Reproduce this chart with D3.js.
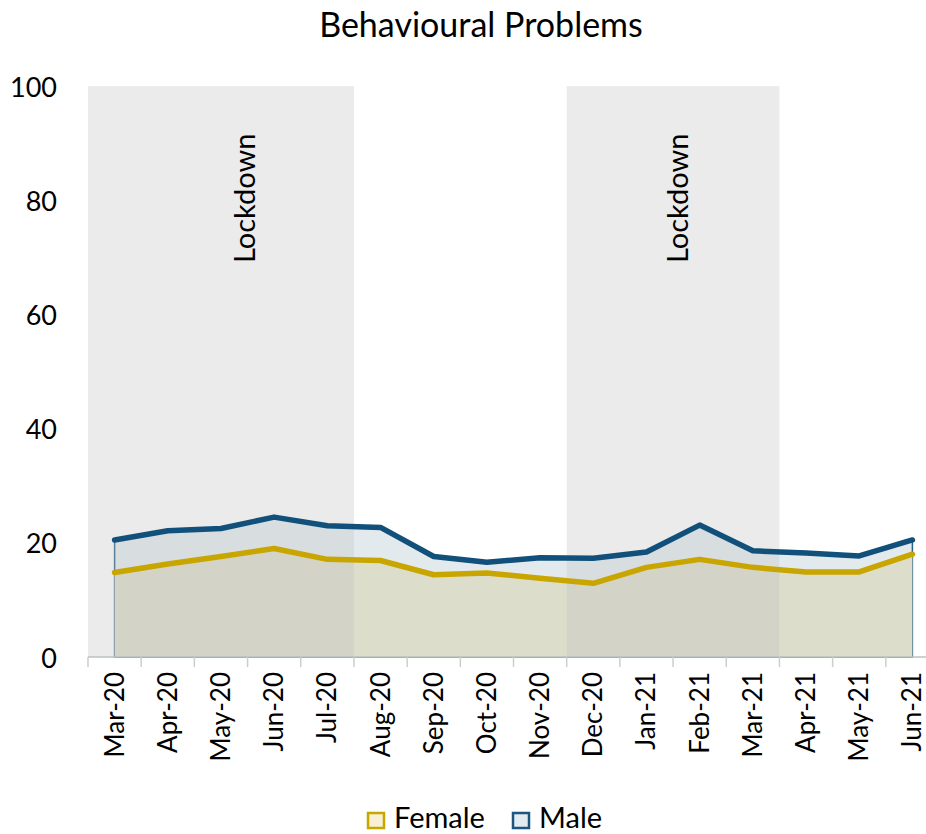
<!DOCTYPE html>
<html>
<head>
<meta charset="utf-8">
<script src="https://cdn.jsdelivr.net/npm/d3@7"></script>
<style>
  body { margin: 0; background: #fff; }
  text { font-family: Lato, "Open Sans", sans-serif; fill: #000; }
</style>
</head>
<body>
<svg width="926" height="834"></svg>
<script>
var months = ["Mar-20", "Apr-20", "May-20", "Jun-20", "Jul-20", "Aug-20", "Sep-20", "Oct-20",
              "Nov-20", "Dec-20", "Jan-21", "Feb-21", "Mar-21", "Apr-21", "May-21", "Jun-21"];
var female = [14.8, 16.3, 17.6, 19.0, 17.1, 16.9, 14.4, 14.7, 13.8, 12.9, 15.7, 17.1, 15.7, 14.9, 14.9, 18.0];
var male   = [20.5, 22.1, 22.5, 24.5, 23.0, 22.7, 17.6, 16.6, 17.4, 17.3, 18.4, 23.1, 18.6, 18.2, 17.7, 20.5];
var yTicks = [0, 20, 40, 60, 80, 100];
var lockdowns = [
  { from: "Mar-20", to: "Jul-20", label: "Jun-20", dx: -4 },
  { from: "Dec-20", to: "Mar-21", label: "Feb-21", dx: 3 }
];

var svg = d3.select("svg");

var x = d3.scaleBand().domain(months).range([88, 939]);
var y = d3.scaleLinear().domain([0, 100]).range([657, 86]);
var cx = function(m) { return x(m) + x.bandwidth() / 2; };

// title
svg.append("text")
  .attr("x", 481).attr("y", 37)
  .attr("text-anchor", "middle")
  .style("font-size", "34px")
  .text("Behavioural Problems");

// areas
var pts = months.map(function(m, i) { return { m: m, f: female[i], v: male[i] }; });

var maleArea = d3.area().x(function(d) { return cx(d.m); }).y0(y(0)).y1(function(d) { return y(d.v); });
var femaleArea = d3.area().x(function(d) { return cx(d.m); }).y0(y(0)).y1(function(d) { return y(d.f); });

svg.append("path").attr("d", maleArea(pts))
  .attr("fill", "#e3eaee").attr("stroke", "#2a6187").attr("stroke-width", 1.5);
svg.append("path").attr("d", femaleArea(pts))
  .attr("fill", "#dcdecb");

// lockdown bands (semi-transparent on top of the areas)
lockdowns.forEach(function(l) {
  svg.append("rect")
    .attr("x", x(l.from))
    .attr("y", y(100))
    .attr("width", x(l.to) + x.bandwidth() - x(l.from))
    .attr("height", y(0) - y(100))
    .attr("fill", "rgb(192,192,192)")
    .attr("fill-opacity", 0.32);
});

// lines
var maleLine = d3.line().x(function(d) { return cx(d.m); }).y(function(d) { return y(d.v); });
var femaleLine = d3.line().x(function(d) { return cx(d.m); }).y(function(d) { return y(d.f); });

svg.append("path").attr("d", maleLine(pts))
  .attr("fill", "none").attr("stroke", "#10507a").attr("stroke-width", 5.5)
  .attr("stroke-linejoin", "round").attr("stroke-linecap", "round");
svg.append("path").attr("d", femaleLine(pts))
  .attr("fill", "none").attr("stroke", "#c9a500").attr("stroke-width", 5.5)
  .attr("stroke-linejoin", "round").attr("stroke-linecap", "round");

// lockdown labels
lockdowns.forEach(function(l) {
  svg.append("text")
    .attr("transform", "translate(" + [x(l.label) + l.dx, y(69)] + ") rotate(-90)")
    .attr("dominant-baseline", "central")
    .style("font-size", "29px")
    .text("Lockdown");
});

// x axis
var xAxis = svg.append("g");
xAxis.append("line")
  .attr("x1", x.range()[0]).attr("x2", x.range()[1])
  .attr("y1", y(0)).attr("y2", y(0))
  .attr("stroke", "#b9c2be").attr("stroke-width", 1.5);
months.concat([null]).forEach(function(m) {
  var xx = m ? x(m) : x.range()[1];
  xAxis.append("line")
    .attr("x1", xx).attr("x2", xx)
    .attr("y1", y(0)).attr("y2", y(0) + 10)
    .attr("stroke", "#c8cfcc").attr("stroke-width", 1.5);
});
months.forEach(function(m) {
  xAxis.append("text")
    .attr("transform", "translate(" + [cx(m) - 1, 672] + ") rotate(-90)")
    .attr("text-anchor", "end")
    .attr("dominant-baseline", "central")
    .style("font-size", "26px")
    .text(m);
});

// y labels
yTicks.forEach(function(t) {
  svg.append("text")
    .attr("x", 57).attr("y", y(t))
    .attr("text-anchor", "end")
    .attr("dominant-baseline", "central")
    .style("font-size", "27px")
    .text(t);
});

// legend
var legend = [
  { name: "Female", fill: "#f8f0d2", stroke: "#c9a500", x: 368 },
  { name: "Male", fill: "#e3eaf0", stroke: "#1c5680", x: 513 }
];
legend.forEach(function(l) {
  svg.append("rect")
    .attr("x", l.x).attr("y", 813)
    .attr("width", 16).attr("height", 15)
    .attr("fill", l.fill).attr("stroke", l.stroke).attr("stroke-width", 2.5);
  svg.append("text")
    .attr("x", l.x + 26).attr("y", 828)
    .style("font-size", "29px")
    .text(l.name);
});
</script>
</body>
</html>
